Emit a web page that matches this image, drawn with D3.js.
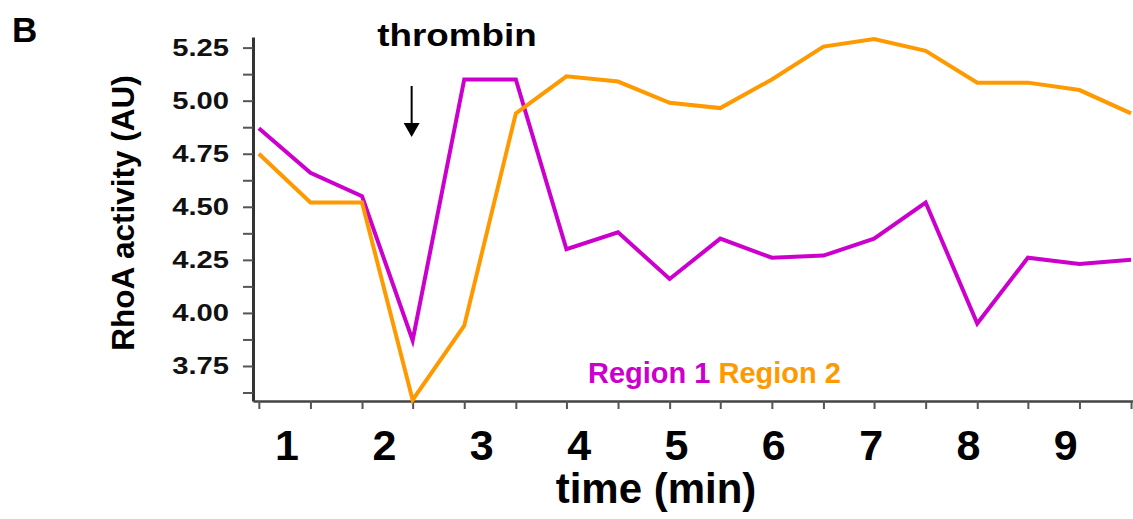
<!DOCTYPE html>
<html>
<head>
<meta charset="utf-8">
<script src="https://cdn.jsdelivr.net/npm/d3@7"></script>
<style>
  body { margin: 0; background: #fff; }
  svg { display: block; font-family: Arial, "Liberation Sans", sans-serif; font-weight: bold; }
</style>
</head>
<body>
<div id="chart"></div>
<script>
// sample times (min) and RhoA activity for the two regions
var times   = [0.71, 1.24, 1.77, 2.29, 2.82, 3.35, 3.87, 4.40, 4.93, 5.45, 5.98, 6.51, 7.03, 7.56, 8.09, 8.61, 9.14, 9.67];
var region1 = [4.87, 4.66, 4.55, 3.87, 5.10, 5.10, 4.30, 4.38, 4.16, 4.35, 4.26, 4.27, 4.35, 4.52, 3.95, 4.26, 4.23, 4.25];
var region2 = [4.75, 4.52, 4.52, 3.59, 3.94, 4.94, 5.115, 5.09, 4.99, 4.965, 5.10, 5.255, 5.29, 5.235, 5.085, 5.085, 5.05, 4.94];

var minuteLabels = [1, 2, 3, 4, 5, 6, 7, 8, 9];
var yMajor = [3.75, 4.00, 4.25, 4.50, 4.75, 5.00, 5.25];
var yMinor = [3.625, 3.875, 4.125, 4.375, 4.625, 4.875, 5.125];
var seriesNames = ["Region 1", "Region 2"];
var seriesColors = ["#cc00cc", "#ff9900"];
var thrombinAt = 2.29;

var W = 1133, H = 519;
var pLeft = 253, pRight = 1133, pTop = 37, pBottom = 401;

var svg = d3.select("#chart").append("svg")
  .attr("width", W)
  .attr("height", H);

var x = d3.scaleLinear().domain([0.65, 9.69]).range([pLeft, pRight]);
var y = d3.scaleLinear().domain([3.585, 5.30]).range([pBottom, pTop]);

// y axis
var yAx = svg.append("g")
  .attr("transform", "translate(" + pLeft + ",0)")
  .call(d3.axisLeft(y).tickValues(yMajor.concat(yMinor)).tickSize(10).tickSizeOuter(0).tickFormat(""));
yAx.select(".domain").attr("stroke", "#333").attr("stroke-width", 3);
yAx.selectAll(".tick line").attr("stroke", "#555").attr("stroke-width", 2);

svg.selectAll(".ylab")
  .data(yMajor)
  .enter()
  .append("text")
  .attr("class", "ylab")
  .attr("transform", d => "translate(229," + (y(d) + 8.3) + ") scale(1.27,1)")
  .attr("text-anchor", "end")
  .attr("font-size", 23)
  .attr("fill", "#111")
  .text(d => d.toFixed(2));

// x axis
var xAx = svg.append("g")
  .attr("transform", "translate(0," + pBottom + ")")
  .call(d3.axisBottom(x).tickValues(times).tickSize(8).tickSizeOuter(0).tickFormat(""));
xAx.select(".domain").attr("stroke", "#444").attr("stroke-width", 2.5);
xAx.selectAll(".tick line").attr("stroke", "#555").attr("stroke-width", 2);

svg.selectAll(".xlab")
  .data(minuteLabels)
  .enter()
  .append("text")
  .attr("class", "xlab")
  .attr("x", d => x(d))
  .attr("y", 460)
  .attr("text-anchor", "middle")
  .attr("font-size", 43)
  .attr("fill", "#000")
  .text(d => d);

svg.append("text")
  .attr("x", 656)
  .attr("y", 503)
  .attr("text-anchor", "middle")
  .attr("font-size", 42)
  .text("time (min)");

svg.append("text")
  .attr("transform", "translate(134,213) rotate(-90)")
  .attr("text-anchor", "middle")
  .attr("font-size", 31.5)
  .text("RhoA activity (AU)");

svg.append("text")
  .attr("x", 12)
  .attr("y", 41.7)
  .attr("font-size", 35)
  .text("B");

// lines
var line = d3.line()
  .x((d, i) => x(times[i]))
  .y(d => y(d));

[region1, region2].forEach(function(s, k) {
  svg.append("path")
    .datum(s)
    .attr("d", line)
    .attr("fill", "none")
    .attr("stroke", seriesColors[k])
    .attr("stroke-width", 4)
    .attr("stroke-linejoin", "miter");
});

// thrombin marker
svg.append("text")
  .attr("transform", "translate(457,45.7) scale(1.15,1)")
  .attr("text-anchor", "middle")
  .attr("font-size", 32)
  .text("thrombin");

var ax = x(thrombinAt) - 1;
svg.append("line")
  .attr("x1", ax).attr("x2", ax)
  .attr("y1", 86).attr("y2", 124)
  .attr("stroke", "#000").attr("stroke-width", 2);
svg.append("path")
  .attr("d", "M" + (ax - 8) + ",123 L" + (ax + 8) + ",123 L" + ax + ",137 Z")
  .attr("fill", "#000");

// legend
var leg = svg.append("text")
  .attr("x", 588)
  .attr("y", 383.3)
  .attr("font-size", 29);
seriesNames.forEach(function(n, k) {
  leg.append("tspan")
    .attr("fill", seriesColors[k])
    .text((k > 0 ? " " : "") + n);
});
</script>
</body>
</html>
